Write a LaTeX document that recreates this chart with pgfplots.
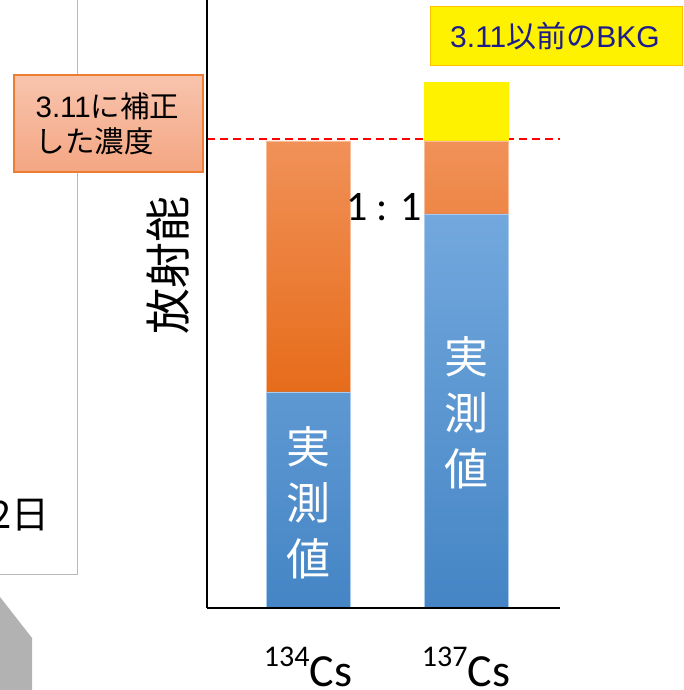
\documentclass[border=0pt]{standalone}
\usepackage{pgfplots}
\pgfplotsset{compat=1.18}
\usepackage{fontspec}
\setmainfont{Carlito}
\newfontfamily\jp{Noto Sans CJK JP}
\newfontfamily\ar{Liberation Sans}
\definecolor{bluetop}{HTML}{72A8DD}
\definecolor{bluebot}{HTML}{4585C5}
\definecolor{orgtop}{HTML}{F19158}
\definecolor{orgbot}{HTML}{E66C1A}
\definecolor{peachtop}{HTML}{F8C4AE}
\definecolor{peachbot}{HTML}{F4A682}
\definecolor{peachline}{HTML}{ED7D31}
\definecolor{ylwline}{HTML}{FFC000}
\definecolor{navy}{HTML}{1C1C8E}
\newcommand{\iso}[1]{\raisebox{0.42em}{\fontsize{30}{30}\selectfont #1}Cs}
\begin{document}
\begin{tikzpicture}[x=1pt,y=1pt]
\clip (0,0) rectangle (683,690);
\fill[white] (0,0) rectangle (683,690);
% background slide elements
\draw[gray!55, line width=1pt] (-20,720) rectangle (77,115);
\node[anchor=base east, inner sep=0pt, font=\jp\fontsize{38}{38}\selectfont] at (50,161) {12日};
\fill[gray!60] (-20,93) -- (0,93) -- (32,52) -- (32,-20) -- (-20,-20) -- cycle;
\begin{axis}[
  scale only axis, width=353pt, height=608pt,
  at={(207,82)}, anchor=south west,
  xmin=207, xmax=560, ymin=0, ymax=608,
  axis x line*=bottom, axis y line*=left,
  axis line style={line width=2.5pt, -},
  axis on top,
  clip=false,
  ybar stacked, bar width=84,
  xtick={308,466}, xticklabels={\iso{134},\iso{137}},
  ytick=\empty, major tick length=0pt,
  xticklabel style={font=\fontsize{46}{46}\selectfont, anchor=base, yshift=-78pt},
  ylabel={放射能},
  ylabel style={font=\jp\fontsize{46}{46}\selectfont, at={(rel axis cs:-0.110,0.564)}, anchor=center},
]
\addplot[draw=bluetop!60!white, line width=0.6pt, top color=bluetop, bottom color=bluebot] coordinates {(308,216) (466,394)};
\addplot[draw=orgtop!60!white, line width=0.6pt, top color=orgtop, bottom color=orgbot] coordinates {(308,251) (466,73)};
\addplot[draw=yellow, fill=yellow] coordinates {(308,0) (466,59)};
\addplot[stack plots=false, sharp plot, no markers, red, line width=1.8pt, dash pattern=on 8pt off 5pt] coordinates {(207,469) (560,469)};
\end{axis}
% texts on the bars and annotations
\node[font=\jp\fontsize{44}{56}\selectfont, text=white, align=center] at (308,187) {実\\測\\値};
\node[font=\jp\fontsize{44}{56}\selectfont, text=white, align=center] at (466,277) {実\\測\\値};
\node[font=\fontsize{42}{42}\selectfont] at (384,483) {1 : 1};
\shade[top color=peachtop, bottom color=peachbot] (14,615) rectangle (203,518);
\draw[peachline, line width=1.2pt] (14,615) rectangle (203,518);
\node[font=\jp\fontsize{29.5}{35}\selectfont, align=left] at (107.5,566.5) {{\ar 3.11}に補正\\した濃度};
\draw[fill=yellow, draw=ylwline, line width=1pt] (430,683) rectangle (682,624);
\node[font=\jp\fontsize{30}{30}\selectfont, text=navy] at (555,654) {{\ar 3.11}以前の{\ar BKG}};
\end{tikzpicture}
\end{document}
